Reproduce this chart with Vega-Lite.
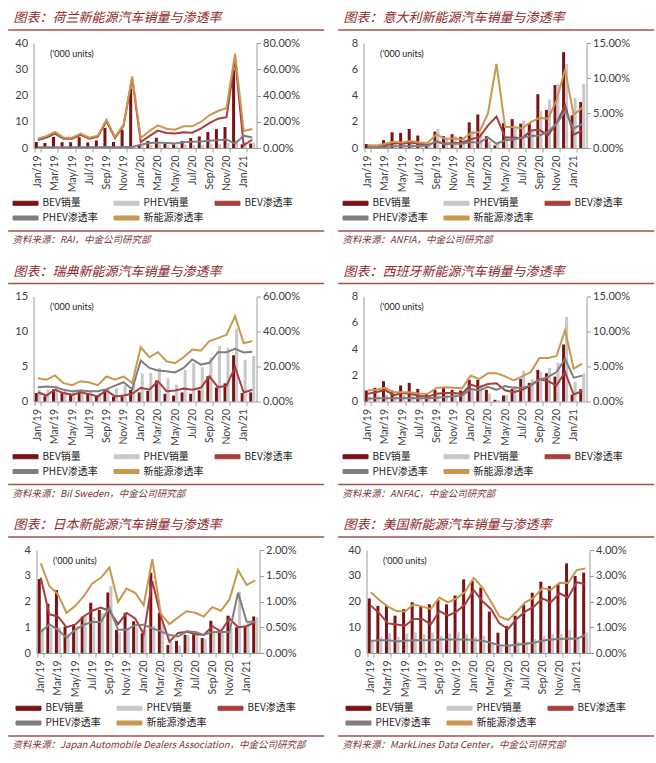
{
"$schema": "https://vega.github.io/schema/vega-lite/v6.json",
"padding": {"left": 7, "top": 12, "right": 0, "bottom": 0},
"background": "white",
"datasets": {
"nl": [
{"m":"Jan/19","bev":2.3,"phev":0.2,"bevr":6.0,"phevr":0.5,"nevr":7.0},
{"m":"Feb/19","bev":1.9,"phev":0.2,"bevr":8.0,"phevr":0.5,"nevr":9.0},
{"m":"Mar/19","bev":4.2,"phev":0.3,"bevr":11.0,"phevr":0.6,"nevr":12.2},
{"m":"Apr/19","bev":2.2,"phev":0.2,"bevr":7.0,"phevr":0.5,"nevr":7.9},
{"m":"May/19","bev":2.2,"phev":0.2,"bevr":7.0,"phevr":0.5,"nevr":7.9},
{"m":"Jun/19","bev":4.1,"phev":0.3,"bevr":10.0,"phevr":0.6,"nevr":10.9},
{"m":"Jul/19","bev":2.1,"phev":0.2,"bevr":7.0,"phevr":0.6,"nevr":7.9},
{"m":"Aug/19","bev":2.9,"phev":0.2,"bevr":8.6,"phevr":0.6,"nevr":9.4},
{"m":"Sep/19","bev":7.7,"phev":0.3,"bevr":20.5,"phevr":0.7,"nevr":21.6},
{"m":"Oct/19","bev":2.3,"phev":0.3,"bevr":7.6,"phevr":0.6,"nevr":8.4},
{"m":"Nov/19","bev":7.0,"phev":0.3,"bevr":17.0,"phevr":0.7,"nevr":18.0},
{"m":"Dec/19","bev":22.6,"phev":0.4,"bevr":53.5,"phevr":0.8,"nevr":54.6},
{"m":"Jan/20","bev":1.2,"phev":1.0,"bevr":4.5,"phevr":2.5,"nevr":7.5},
{"m":"Feb/20","bev":2.7,"phev":1.1,"bevr":9.0,"phevr":3.8,"nevr":13.0},
{"m":"Mar/20","bev":3.9,"phev":1.4,"bevr":13.3,"phevr":4.2,"nevr":17.3},
{"m":"Apr/20","bev":1.7,"phev":0.9,"bevr":11.4,"phevr":3.8,"nevr":14.7},
{"m":"May/20","bev":1.4,"phev":0.9,"bevr":11.0,"phevr":3.5,"nevr":14.0},
{"m":"Jun/20","bev":2.7,"phev":1.3,"bevr":12.0,"phevr":4.3,"nevr":16.5},
{"m":"Jul/20","bev":3.8,"phev":1.2,"bevr":11.7,"phevr":4.8,"nevr":16.5},
{"m":"Aug/20","bev":4.4,"phev":1.2,"bevr":14.7,"phevr":5.0,"nevr":19.8},
{"m":"Sep/20","bev":6.1,"phev":1.7,"bevr":19.0,"phevr":5.5,"nevr":24.9},
{"m":"Oct/20","bev":7.2,"phev":1.6,"bevr":22.3,"phevr":6.0,"nevr":28.2},
{"m":"Nov/20","bev":8.0,"phev":1.8,"bevr":23.5,"phevr":6.5,"nevr":30.5},
{"m":"Dec/20","bev":29.6,"phev":3.0,"bevr":68.5,"phevr":3.3,"nevr":72.0},
{"m":"Jan/21","bev":1.4,"phev":2.2,"bevr":2.0,"phevr":9.4,"nevr":13.0},
{"m":"Feb/21","bev":1.7,"phev":2.0,"bevr":6.3,"phevr":8.0,"nevr":14.5}
],
"it": [
{"m":"Jan/19","bev":0.3,"phev":0.2,"bevr":0.2,"phevr":0.1,"nevr":0.4},
{"m":"Feb/19","bev":0.1,"phev":0.2,"bevr":0.1,"phevr":0.1,"nevr":0.35},
{"m":"Mar/19","bev":0.6,"phev":0.3,"bevr":0.35,"phevr":0.15,"nevr":0.6},
{"m":"Apr/19","bev":1.2,"phev":0.4,"bevr":0.7,"phevr":0.25,"nevr":0.9},
{"m":"May/19","bev":1.15,"phev":0.45,"bevr":0.6,"phevr":0.25,"nevr":0.8},
{"m":"Jun/19","bev":1.45,"phev":0.4,"bevr":0.8,"phevr":0.25,"nevr":1.0},
{"m":"Jul/19","bev":0.95,"phev":0.45,"bevr":0.6,"phevr":0.3,"nevr":0.8},
{"m":"Aug/19","bev":0.3,"phev":0.3,"bevr":0.45,"phevr":0.35,"nevr":0.75},
{"m":"Sep/19","bev":1.25,"phev":1.45,"bevr":0.9,"phevr":1.0,"nevr":1.95},
{"m":"Oct/19","bev":0.9,"phev":0.8,"bevr":0.6,"phevr":0.55,"nevr":1.3},
{"m":"Nov/19","bev":1.05,"phev":0.9,"bevr":0.7,"phevr":0.6,"nevr":1.4},
{"m":"Dec/19","bev":0.85,"phev":0.7,"bevr":0.75,"phevr":0.6,"nevr":1.2},
{"m":"Jan/20","bev":1.95,"phev":1.3,"bevr":1.25,"phevr":0.85,"nevr":2.1},
{"m":"Feb/20","bev":2.55,"phev":1.2,"bevr":1.55,"phevr":0.75,"nevr":2.3},
{"m":"Mar/20","bev":0.9,"phev":0.5,"bevr":3.2,"phevr":1.5,"nevr":4.9},
{"m":"Apr/20","bev":0.2,"phev":0.3,"bevr":4.5,"phevr":0.6,"nevr":12.0},
{"m":"May/20","bev":1.9,"phev":0.9,"bevr":1.5,"phevr":1.1,"nevr":3.0},
{"m":"Jun/20","bev":2.2,"phev":1.6,"bevr":1.5,"phevr":1.2,"nevr":3.0},
{"m":"Jul/20","bev":1.85,"phev":2.1,"bevr":1.4,"phevr":1.5,"nevr":2.8},
{"m":"Aug/20","bev":1.9,"phev":1.4,"bevr":2.5,"phevr":1.7,"nevr":3.7},
{"m":"Sep/20","bev":4.1,"phev":2.8,"bevr":2.6,"phevr":1.8,"nevr":4.3},
{"m":"Oct/20","bev":2.9,"phev":3.7,"bevr":1.85,"phevr":2.3,"nevr":4.2},
{"m":"Nov/20","bev":4.8,"phev":4.9,"bevr":3.5,"phevr":3.5,"nevr":6.8},
{"m":"Dec/20","bev":7.3,"phev":6.4,"bevr":6.1,"phevr":5.3,"nevr":11.2},
{"m":"Jan/21","bev":2.5,"phev":3.8,"bevr":1.9,"phevr":2.8,"nevr":4.7},
{"m":"Feb/21","bev":3.5,"phev":4.9,"bevr":2.5,"phevr":3.4,"nevr":5.8}
],
"se": [
{"m":"Jan/19","bev":1.2,"phev":1.7,"bevr":5.3,"phevr":8.2,"nevr":13.3},
{"m":"Feb/19","bev":0.75,"phev":1.7,"bevr":3.4,"phevr":8.6,"nevr":12.4},
{"m":"Mar/19","bev":1.75,"phev":2.3,"bevr":6.7,"phevr":8.2,"nevr":14.9},
{"m":"Apr/19","bev":1.2,"phev":1.7,"bevr":4.8,"phevr":6.7,"nevr":10.5},
{"m":"May/19","bev":1.0,"phev":1.6,"bevr":3.8,"phevr":5.9,"nevr":9.3},
{"m":"Jun/19","bev":1.65,"phev":1.7,"bevr":5.3,"phevr":6.3,"nevr":11.6},
{"m":"Jul/19","bev":1.2,"phev":1.5,"bevr":4.2,"phevr":5.9,"nevr":10.9},
{"m":"Aug/19","bev":0.85,"phev":1.2,"bevr":2.9,"phevr":5.9,"nevr":9.3},
{"m":"Sep/19","bev":1.65,"phev":1.9,"bevr":6.3,"phevr":7.0,"nevr":14.3},
{"m":"Oct/19","bev":0.7,"phev":1.9,"bevr":2.9,"phevr":9.1,"nevr":12.4},
{"m":"Nov/19","bev":0.75,"phev":2.3,"bevr":3.4,"phevr":11.0,"nevr":14.3},
{"m":"Dec/19","bev":1.65,"phev":2.6,"bevr":4.4,"phevr":7.0,"nevr":10.5},
{"m":"Jan/20","bev":1.3,"phev":4.0,"bevr":7.8,"phevr":23.4,"nevr":31.0},
{"m":"Feb/20","bev":1.5,"phev":4.1,"bevr":6.7,"phevr":19.2,"nevr":25.3},
{"m":"Mar/20","bev":3.0,"phev":4.8,"bevr":11.6,"phevr":17.7,"nevr":28.2},
{"m":"Apr/20","bev":1.1,"phev":3.3,"bevr":5.9,"phevr":17.3,"nevr":23.0},
{"m":"May/20","bev":0.85,"phev":2.4,"bevr":6.3,"phevr":16.6,"nevr":21.9},
{"m":"Jun/20","bev":1.3,"phev":4.5,"bevr":7.4,"phevr":19.2,"nevr":25.3},
{"m":"Jul/20","bev":1.1,"phev":5.5,"bevr":6.7,"phevr":24.0,"nevr":29.7},
{"m":"Aug/20","bev":1.6,"phev":4.9,"bevr":7.8,"phevr":21.1,"nevr":29.1},
{"m":"Sep/20","bev":3.6,"phev":6.3,"bevr":14.3,"phevr":22.1,"nevr":34.5},
{"m":"Oct/20","bev":2.0,"phev":7.9,"bevr":8.2,"phevr":28.2,"nevr":36.2},
{"m":"Nov/20","bev":2.6,"phev":7.7,"bevr":9.0,"phevr":28.2,"nevr":38.1},
{"m":"Dec/20","bev":6.6,"phev":10.4,"bevr":19.6,"phevr":30.1,"nevr":48.8},
{"m":"Jan/21","bev":1.2,"phev":5.95,"bevr":5.1,"phevr":28.0,"nevr":33.3},
{"m":"Feb/21","bev":1.3,"phev":6.5,"bevr":6.7,"phevr":28.4,"nevr":34.5}
],
"es": [
{"m":"Jan/19","bev":0.84,"phev":0.4,"bevr":1.1,"phevr":0.4,"nevr":1.57},
{"m":"Feb/19","bev":1.04,"phev":0.45,"bevr":1.33,"phevr":0.45,"nevr":1.67},
{"m":"Mar/19","bev":1.55,"phev":0.5,"bevr":1.67,"phevr":0.45,"nevr":1.95},
{"m":"Apr/19","bev":0.84,"phev":0.45,"bevr":0.9,"phevr":0.45,"nevr":1.33},
{"m":"May/19","bev":1.22,"phev":0.5,"bevr":1.2,"phevr":0.45,"nevr":1.33},
{"m":"Jun/19","bev":1.42,"phev":0.55,"bevr":1.1,"phevr":0.5,"nevr":1.33},
{"m":"Jul/19","bev":0.96,"phev":0.5,"bevr":0.8,"phevr":0.45,"nevr":1.1},
{"m":"Aug/19","bev":0.58,"phev":0.35,"bevr":0.7,"phevr":0.45,"nevr":1.1},
{"m":"Sep/19","bev":0.89,"phev":0.5,"bevr":1.1,"phevr":0.55,"nevr":1.95},
{"m":"Oct/19","bev":1.04,"phev":0.55,"bevr":1.2,"phevr":0.65,"nevr":2.05},
{"m":"Nov/19","bev":0.89,"phev":0.6,"bevr":1.2,"phevr":0.75,"nevr":1.95},
{"m":"Dec/19","bev":0.84,"phev":0.7,"bevr":1.1,"phevr":0.85,"nevr":1.9},
{"m":"Jan/20","bev":1.65,"phev":1.0,"bevr":2.4,"phevr":1.8,"nevr":3.7},
{"m":"Feb/20","bev":1.65,"phev":1.2,"bevr":2.05,"phevr":1.57,"nevr":3.2},
{"m":"Mar/20","bev":0.89,"phev":0.6,"bevr":2.5,"phevr":2.1,"nevr":4.05},
{"m":"Apr/20","bev":0.13,"phev":0.1,"bevr":2.6,"phevr":1.67,"nevr":4.05},
{"m":"May/20","bev":0.46,"phev":0.5,"bevr":1.6,"phevr":2.2,"nevr":3.6},
{"m":"Jun/20","bev":0.96,"phev":1.2,"bevr":1.33,"phevr":1.95,"nevr":3.0},
{"m":"Jul/20","bev":1.73,"phev":2.35,"bevr":1.67,"phevr":1.95,"nevr":3.6},
{"m":"Aug/20","bev":1.42,"phev":1.7,"bevr":2.3,"phevr":2.3,"nevr":4.2},
{"m":"Sep/20","bev":2.41,"phev":2.3,"bevr":3.2,"phevr":3.1,"nevr":6.2},
{"m":"Oct/20","bev":2.16,"phev":2.55,"bevr":2.9,"phevr":3.5,"nevr":6.2},
{"m":"Nov/20","bev":1.9,"phev":2.95,"bevr":2.3,"phevr":4.2,"nevr":6.5},
{"m":"Dec/20","bev":4.34,"phev":6.45,"bevr":4.2,"phevr":6.1,"nevr":10.2},
{"m":"Jan/21","bev":0.53,"phev":1.5,"bevr":1.0,"phevr":3.4,"nevr":4.7},
{"m":"Feb/21","bev":0.94,"phev":2.15,"bevr":1.5,"phevr":3.7,"nevr":5.4}
],
"jp": [
{"m":"Jan/19","bev":2.87,"phev":0.95,"bevr":1.46,"phevr":0.41,"nevr":1.74},
{"m":"Feb/19","bev":1.91,"phev":1.0,"bevr":0.75,"phevr":0.56,"nevr":1.30},
{"m":"Mar/19","bev":2.44,"phev":1.0,"bevr":0.71,"phevr":0.45,"nevr":1.14},
{"m":"Apr/19","bev":1.03,"phev":0.75,"bevr":0.5,"phevr":0.30,"nevr":0.78},
{"m":"May/19","bev":1.12,"phev":1.05,"bevr":0.55,"phevr":0.45,"nevr":0.91},
{"m":"Jun/19","bev":1.41,"phev":1.45,"bevr":0.71,"phevr":0.55,"nevr":1.10},
{"m":"Jul/19","bev":1.95,"phev":1.4,"bevr":0.82,"phevr":0.6,"nevr":1.35},
{"m":"Aug/19","bev":1.67,"phev":1.55,"bevr":0.88,"phevr":0.6,"nevr":1.46},
{"m":"Sep/19","bev":2.35,"phev":2.6,"bevr":0.82,"phevr":0.88,"nevr":1.66},
{"m":"Oct/19","bev":0.9,"phev":0.8,"bevr":0.56,"phevr":0.45,"nevr":0.99},
{"m":"Nov/19","bev":1.56,"phev":0.95,"bevr":0.78,"phevr":0.45,"nevr":1.25},
{"m":"Dec/19","bev":1.23,"phev":1.0,"bevr":0.67,"phevr":0.54,"nevr":1.17},
{"m":"Jan/20","bev":0.77,"phev":0.9,"bevr":0.37,"phevr":0.55,"nevr":0.93},
{"m":"Feb/20","bev":3.12,"phev":1.05,"bevr":1.4,"phevr":0.48,"nevr":1.82},
{"m":"Mar/20","bev":1.56,"phev":1.2,"bevr":0.71,"phevr":0.42,"nevr":0.76},
{"m":"Apr/20","bev":0.31,"phev":0.45,"bevr":0.22,"phevr":0.35,"nevr":0.56},
{"m":"May/20","bev":0.47,"phev":0.3,"bevr":0.39,"phevr":0.32,"nevr":0.69},
{"m":"Jun/20","bev":0.71,"phev":0.7,"bevr":0.41,"phevr":0.42,"nevr":0.81},
{"m":"Jul/20","bev":0.73,"phev":0.85,"bevr":0.37,"phevr":0.41,"nevr":0.78},
{"m":"Aug/20","bev":0.58,"phev":0.55,"bevr":0.35,"phevr":0.35,"nevr":0.71},
{"m":"Sep/20","bev":1.25,"phev":0.8,"bevr":0.52,"phevr":0.41,"nevr":0.89},
{"m":"Oct/20","bev":0.9,"phev":0.8,"bevr":0.42,"phevr":0.41,"nevr":0.82},
{"m":"Nov/20","bev":1.45,"phev":0.95,"bevr":0.67,"phevr":0.41,"nevr":1.04},
{"m":"Dec/20","bev":1.0,"phev":2.38,"bevr":0.5,"phevr":1.17,"nevr":1.61},
{"m":"Jan/21","bev":1.03,"phev":1.2,"bevr":0.52,"phevr":0.61,"nevr":1.32},
{"m":"Feb/21","bev":1.42,"phev":1.39,"bevr":0.6,"phevr":0.6,"nevr":1.41}
],
"us": [
{"m":"Jan/19","bev":21.2,"phev":4.7,"bevr":1.84,"phevr":0.47,"nevr":2.36},
{"m":"Feb/19","bev":18.3,"phev":6.3,"bevr":1.54,"phevr":0.5,"nevr":2.06},
{"m":"Mar/19","bev":18.4,"phev":7.6,"bevr":1.15,"phevr":0.5,"nevr":1.80},
{"m":"Apr/19","bev":14.5,"phev":6.3,"bevr":1.11,"phevr":0.45,"nevr":1.63},
{"m":"May/19","bev":17.0,"phev":7.6,"bevr":1.06,"phevr":0.48,"nevr":1.61},
{"m":"Jun/19","bev":19.7,"phev":8.0,"bevr":1.32,"phevr":0.5,"nevr":1.89},
{"m":"Jul/19","bev":18.3,"phev":7.4,"bevr":1.32,"phevr":0.5,"nevr":1.80},
{"m":"Aug/19","bev":18.9,"phev":8.0,"bevr":1.11,"phevr":0.5,"nevr":1.71},
{"m":"Sep/19","bev":20.6,"phev":6.7,"bevr":1.63,"phevr":0.52,"nevr":2.15},
{"m":"Oct/19","bev":18.9,"phev":7.6,"bevr":1.45,"phevr":0.52,"nevr":1.97},
{"m":"Nov/19","bev":22.3,"phev":8.0,"bevr":1.61,"phevr":0.52,"nevr":2.12},
{"m":"Dec/19","bev":28.6,"phev":7.3,"bevr":1.89,"phevr":0.52,"nevr":2.38},
{"m":"Jan/20","bev":28.0,"phev":6.3,"bevr":2.45,"phevr":0.5,"nevr":2.92},
{"m":"Feb/20","bev":25.4,"phev":6.7,"bevr":2.02,"phevr":0.48,"nevr":2.55},
{"m":"Mar/20","bev":16.1,"phev":3.8,"bevr":1.71,"phevr":0.4,"nevr":2.0},
{"m":"Apr/20","bev":7.9,"phev":2.5,"bevr":1.15,"phevr":0.3,"nevr":1.42},
{"m":"May/20","bev":10.5,"phev":3.4,"bevr":0.93,"phevr":0.28,"nevr":1.28},
{"m":"Jun/20","bev":14.5,"phev":4.4,"bevr":1.32,"phevr":0.32,"nevr":1.6},
{"m":"Jul/20","bev":18.9,"phev":4.4,"bevr":1.61,"phevr":0.36,"nevr":1.97},
{"m":"Aug/20","bev":23.4,"phev":5.4,"bevr":1.80,"phevr":0.4,"nevr":2.15},
{"m":"Sep/20","bev":27.7,"phev":6.7,"bevr":2.12,"phevr":0.48,"nevr":2.52},
{"m":"Oct/20","bev":26.0,"phev":7.3,"bevr":1.97,"phevr":0.52,"nevr":2.45},
{"m":"Nov/20","bev":26.7,"phev":7.3,"bevr":2.32,"phevr":0.54,"nevr":2.73},
{"m":"Dec/20","bev":34.8,"phev":8.9,"bevr":2.15,"phevr":0.56,"nevr":2.72},
{"m":"Jan/21","bev":29.9,"phev":6.0,"bevr":2.75,"phevr":0.55,"nevr":3.22},
{"m":"Feb/21","bev":31.2,"phev":8.0,"bevr":2.67,"phevr":0.7,"nevr":3.28}
]
},
"spacing": 20.5,
"resolve": {"scale": {"color": "independent"}, "legend": {"color": "independent"}},
"vconcat": [
{"spacing": 12, "resolve": {"scale": {"color": "independent"}, "legend": {"color": "independent"}}, "hconcat": [
{"spacing": 6, "center": true, "resolve": {"scale": {"color": "independent"}, "legend": {"color": "independent"}}, "vconcat": [
{"width": 316, "height": 1, "data": {"values": [{}]}, "title": {"text": "图表：荷兰新能源汽车销量与渗透率"}, "mark": {"type": "rule", "color": "#A0504E", "strokeWidth": 1.3}, "encoding": {"y": {"datum": 1, "type": "quantitative", "scale": {"domain": [0, 1]}, "axis": null}}},
{"width": 223, "height": 105, "data": {"name": "nl"},
 "transform": [{"fold": ["bev", "phev", "bevr", "phevr", "nevr"], "as": ["s", "v"]}],
 "encoding": {
  "x": {"field": "m", "type": "ordinal", "scale": {"domain": ["Jan/19","Feb/19","Mar/19","Apr/19","May/19","Jun/19","Jul/19","Aug/19","Sep/19","Oct/19","Nov/19","Dec/19","Jan/20","Feb/20","Mar/20","Apr/20","May/20","Jun/20","Jul/20","Aug/20","Sep/20","Oct/20","Nov/20","Dec/20","Jan/21","Feb/21"], "paddingInner": 0.3, "paddingOuter": 0.15}, "axis": {"title": null, "values": ["Jan/19","Mar/19","May/19","Jul/19","Sep/19","Nov/19","Jan/20","Mar/20","May/20","Jul/20","Sep/20","Nov/20","Jan/21"]}},
  "color": {"field": "s", "type": "nominal", "scale": {"domain": ["bev", "phev", "bevr", "phevr", "nevr"], "range": ["#7B1216", "#C8C8C8", "#A83E3E", "#7F7F7F", "#C9974F"]},
   "legend": {"title": null, "orient": "none", "direction": "horizontal", "legendX": -21, "legendY": 154.5, "symbolType": "M-1,-0.4H4V0.4H-1Z", "labelExpr": "datum.value == 'bev' ? 'BEV销量' : datum.value == 'phev' ? 'PHEV销量' : datum.value == 'bevr' ? 'BEV渗透率' : datum.value == 'phevr' ? 'PHEV渗透率' : '新能源渗透率'"}}
 },
 "layer": [
  {"transform": [{"filter": "datum.s == 'bev' || datum.s == 'phev'"}], "mark": {"type": "bar"},
   "encoding": {"xOffset": {"field": "s", "type": "nominal", "scale": {"domain": ["bev", "phev"]}}, "y": {"field": "v", "type": "quantitative", "scale": {"domain": [0, 40]}, "axis": {"values": [0, 10, 20, 30, 40], "title": "('000 units)"}}}},
  {"transform": [{"filter": "datum.s != 'bev' && datum.s != 'phev'"}], "mark": {"type": "line", "strokeWidth": 2},
   "encoding": {"y": {"field": "v", "type": "quantitative", "scale": {"domain": [0, 80]}, "axis": {"orient": "right", "values": [0, 20, 40, 60, 80], "title": null, "labelExpr": "format(datum.value, '.2f') + '%'"}}}}
 ],
 "resolve": {"scale": {"y": "independent"}}
},
{"width": 316, "height": 1, "data": {"values": [{}]}, "title": {"text": "资料来源：RAI，中金公司研究部", "orient": "bottom", "fontSize": 9.5, "offset": 3, "dx": 5, "color": "#7A3535"}, "mark": {"type": "rule", "color": "#A0504E", "strokeWidth": 1.3}, "encoding": {"y": {"datum": 1, "type": "quantitative", "scale": {"domain": [0, 1]}, "axis": null}}}
]},
{"spacing": 6, "center": true, "resolve": {"scale": {"color": "independent"}, "legend": {"color": "independent"}}, "vconcat": [
{"width": 316, "height": 1, "data": {"values": [{}]}, "title": {"text": "图表：意大利新能源汽车销量与渗透率"}, "mark": {"type": "rule", "color": "#A0504E", "strokeWidth": 1.3}, "encoding": {"y": {"datum": 1, "type": "quantitative", "scale": {"domain": [0, 1]}, "axis": null}}},
{"width": 223, "height": 105, "data": {"name": "it"},
 "transform": [{"fold": ["bev", "phev", "bevr", "phevr", "nevr"], "as": ["s", "v"]}],
 "encoding": {
  "x": {"field": "m", "type": "ordinal", "scale": {"domain": ["Jan/19","Feb/19","Mar/19","Apr/19","May/19","Jun/19","Jul/19","Aug/19","Sep/19","Oct/19","Nov/19","Dec/19","Jan/20","Feb/20","Mar/20","Apr/20","May/20","Jun/20","Jul/20","Aug/20","Sep/20","Oct/20","Nov/20","Dec/20","Jan/21","Feb/21"], "paddingInner": 0.3, "paddingOuter": 0.15}, "axis": {"title": null, "values": ["Jan/19","Mar/19","May/19","Jul/19","Sep/19","Nov/19","Jan/20","Mar/20","May/20","Jul/20","Sep/20","Nov/20","Jan/21"]}},
  "color": {"field": "s", "type": "nominal", "scale": {"domain": ["bev", "phev", "bevr", "phevr", "nevr"], "range": ["#7B1216", "#C8C8C8", "#A83E3E", "#7F7F7F", "#C9974F"]},
   "legend": {"title": null, "orient": "none", "direction": "horizontal", "legendX": -21, "legendY": 154.5, "symbolType": "M-1,-0.4H4V0.4H-1Z", "labelExpr": "datum.value == 'bev' ? 'BEV销量' : datum.value == 'phev' ? 'PHEV销量' : datum.value == 'bevr' ? 'BEV渗透率' : datum.value == 'phevr' ? 'PHEV渗透率' : '新能源渗透率'"}}
 },
 "layer": [
  {"transform": [{"filter": "datum.s == 'bev' || datum.s == 'phev'"}], "mark": {"type": "bar"},
   "encoding": {"xOffset": {"field": "s", "type": "nominal", "scale": {"domain": ["bev", "phev"]}}, "y": {"field": "v", "type": "quantitative", "scale": {"domain": [0, 8]}, "axis": {"values": [0, 2, 4, 6, 8], "title": "('000 units)"}}}},
  {"transform": [{"filter": "datum.s != 'bev' && datum.s != 'phev'"}], "mark": {"type": "line", "strokeWidth": 2},
   "encoding": {"y": {"field": "v", "type": "quantitative", "scale": {"domain": [0, 15]}, "axis": {"orient": "right", "values": [0, 5, 10, 15], "title": null, "labelExpr": "format(datum.value, '.2f') + '%'"}}}}
 ],
 "resolve": {"scale": {"y": "independent"}}
},
{"width": 316, "height": 1, "data": {"values": [{}]}, "title": {"text": "资料来源：ANFIA，中金公司研究部", "orient": "bottom", "fontSize": 9.5, "offset": 3, "dx": 5, "color": "#7A3535"}, "mark": {"type": "rule", "color": "#A0504E", "strokeWidth": 1.3}, "encoding": {"y": {"datum": 1, "type": "quantitative", "scale": {"domain": [0, 1]}, "axis": null}}}
]}
]},
{"spacing": 12, "resolve": {"scale": {"color": "independent"}, "legend": {"color": "independent"}}, "hconcat": [
{"spacing": 6, "center": true, "resolve": {"scale": {"color": "independent"}, "legend": {"color": "independent"}}, "vconcat": [
{"width": 316, "height": 1, "data": {"values": [{}]}, "title": {"text": "图表：瑞典新能源汽车销量与渗透率"}, "mark": {"type": "rule", "color": "#A0504E", "strokeWidth": 1.3}, "encoding": {"y": {"datum": 1, "type": "quantitative", "scale": {"domain": [0, 1]}, "axis": null}}},
{"width": 223, "height": 105, "data": {"name": "se"},
 "transform": [{"fold": ["bev", "phev", "bevr", "phevr", "nevr"], "as": ["s", "v"]}],
 "encoding": {
  "x": {"field": "m", "type": "ordinal", "scale": {"domain": ["Jan/19","Feb/19","Mar/19","Apr/19","May/19","Jun/19","Jul/19","Aug/19","Sep/19","Oct/19","Nov/19","Dec/19","Jan/20","Feb/20","Mar/20","Apr/20","May/20","Jun/20","Jul/20","Aug/20","Sep/20","Oct/20","Nov/20","Dec/20","Jan/21","Feb/21"], "paddingInner": 0.3, "paddingOuter": 0.15}, "axis": {"title": null, "values": ["Jan/19","Mar/19","May/19","Jul/19","Sep/19","Nov/19","Jan/20","Mar/20","May/20","Jul/20","Sep/20","Nov/20","Jan/21"]}},
  "color": {"field": "s", "type": "nominal", "scale": {"domain": ["bev", "phev", "bevr", "phevr", "nevr"], "range": ["#7B1216", "#C8C8C8", "#A83E3E", "#7F7F7F", "#C9974F"]},
   "legend": {"title": null, "orient": "none", "direction": "horizontal", "legendX": -21, "legendY": 154.5, "symbolType": "M-1,-0.4H4V0.4H-1Z", "labelExpr": "datum.value == 'bev' ? 'BEV销量' : datum.value == 'phev' ? 'PHEV销量' : datum.value == 'bevr' ? 'BEV渗透率' : datum.value == 'phevr' ? 'PHEV渗透率' : '新能源渗透率'"}}
 },
 "layer": [
  {"transform": [{"filter": "datum.s == 'bev' || datum.s == 'phev'"}], "mark": {"type": "bar"},
   "encoding": {"xOffset": {"field": "s", "type": "nominal", "scale": {"domain": ["bev", "phev"]}}, "y": {"field": "v", "type": "quantitative", "scale": {"domain": [0, 15]}, "axis": {"values": [0, 5, 10, 15], "title": "('000 units)"}}}},
  {"transform": [{"filter": "datum.s != 'bev' && datum.s != 'phev'"}], "mark": {"type": "line", "strokeWidth": 2},
   "encoding": {"y": {"field": "v", "type": "quantitative", "scale": {"domain": [0, 60]}, "axis": {"orient": "right", "values": [0, 20, 40, 60], "title": null, "labelExpr": "format(datum.value, '.2f') + '%'"}}}}
 ],
 "resolve": {"scale": {"y": "independent"}}
},
{"width": 316, "height": 1, "data": {"values": [{}]}, "title": {"text": "资料来源：Bil Sweden，中金公司研究部", "orient": "bottom", "fontSize": 9.5, "offset": 3, "dx": 5, "color": "#7A3535"}, "mark": {"type": "rule", "color": "#A0504E", "strokeWidth": 1.3}, "encoding": {"y": {"datum": 1, "type": "quantitative", "scale": {"domain": [0, 1]}, "axis": null}}}
]},
{"spacing": 6, "center": true, "resolve": {"scale": {"color": "independent"}, "legend": {"color": "independent"}}, "vconcat": [
{"width": 316, "height": 1, "data": {"values": [{}]}, "title": {"text": "图表：西班牙新能源汽车销量与渗透率"}, "mark": {"type": "rule", "color": "#A0504E", "strokeWidth": 1.3}, "encoding": {"y": {"datum": 1, "type": "quantitative", "scale": {"domain": [0, 1]}, "axis": null}}},
{"width": 223, "height": 105, "data": {"name": "es"},
 "transform": [{"fold": ["bev", "phev", "bevr", "phevr", "nevr"], "as": ["s", "v"]}],
 "encoding": {
  "x": {"field": "m", "type": "ordinal", "scale": {"domain": ["Jan/19","Feb/19","Mar/19","Apr/19","May/19","Jun/19","Jul/19","Aug/19","Sep/19","Oct/19","Nov/19","Dec/19","Jan/20","Feb/20","Mar/20","Apr/20","May/20","Jun/20","Jul/20","Aug/20","Sep/20","Oct/20","Nov/20","Dec/20","Jan/21","Feb/21"], "paddingInner": 0.3, "paddingOuter": 0.15}, "axis": {"title": null, "values": ["Jan/19","Mar/19","May/19","Jul/19","Sep/19","Nov/19","Jan/20","Mar/20","May/20","Jul/20","Sep/20","Nov/20","Jan/21"]}},
  "color": {"field": "s", "type": "nominal", "scale": {"domain": ["bev", "phev", "bevr", "phevr", "nevr"], "range": ["#7B1216", "#C8C8C8", "#A83E3E", "#7F7F7F", "#C9974F"]},
   "legend": {"title": null, "orient": "none", "direction": "horizontal", "legendX": -21, "legendY": 154.5, "symbolType": "M-1,-0.4H4V0.4H-1Z", "labelExpr": "datum.value == 'bev' ? 'BEV销量' : datum.value == 'phev' ? 'PHEV销量' : datum.value == 'bevr' ? 'BEV渗透率' : datum.value == 'phevr' ? 'PHEV渗透率' : '新能源渗透率'"}}
 },
 "layer": [
  {"transform": [{"filter": "datum.s == 'bev' || datum.s == 'phev'"}], "mark": {"type": "bar"},
   "encoding": {"xOffset": {"field": "s", "type": "nominal", "scale": {"domain": ["bev", "phev"]}}, "y": {"field": "v", "type": "quantitative", "scale": {"domain": [0, 8]}, "axis": {"values": [0, 2, 4, 6, 8], "title": "('000 units)"}}}},
  {"transform": [{"filter": "datum.s != 'bev' && datum.s != 'phev'"}], "mark": {"type": "line", "strokeWidth": 2},
   "encoding": {"y": {"field": "v", "type": "quantitative", "scale": {"domain": [0, 15]}, "axis": {"orient": "right", "values": [0, 5, 10, 15], "title": null, "labelExpr": "format(datum.value, '.2f') + '%'"}}}}
 ],
 "resolve": {"scale": {"y": "independent"}}
},
{"width": 316, "height": 1, "data": {"values": [{}]}, "title": {"text": "资料来源：ANFAC，中金公司研究部", "orient": "bottom", "fontSize": 9.5, "offset": 3, "dx": 5, "color": "#7A3535"}, "mark": {"type": "rule", "color": "#A0504E", "strokeWidth": 1.3}, "encoding": {"y": {"datum": 1, "type": "quantitative", "scale": {"domain": [0, 1]}, "axis": null}}}
]}
]},
{"spacing": 12, "resolve": {"scale": {"color": "independent"}, "legend": {"color": "independent"}}, "hconcat": [
{"spacing": 6, "center": true, "resolve": {"scale": {"color": "independent"}, "legend": {"color": "independent"}}, "vconcat": [
{"width": 316, "height": 1, "data": {"values": [{}]}, "title": {"text": "图表：日本新能源汽车销量与渗透率"}, "mark": {"type": "rule", "color": "#A0504E", "strokeWidth": 1.3}, "encoding": {"y": {"datum": 1, "type": "quantitative", "scale": {"domain": [0, 1]}, "axis": null}}},
{"width": 223, "height": 103, "data": {"name": "jp"},
 "transform": [{"fold": ["bev", "phev", "bevr", "phevr", "nevr"], "as": ["s", "v"]}],
 "encoding": {
  "x": {"field": "m", "type": "ordinal", "scale": {"domain": ["Jan/19","Feb/19","Mar/19","Apr/19","May/19","Jun/19","Jul/19","Aug/19","Sep/19","Oct/19","Nov/19","Dec/19","Jan/20","Feb/20","Mar/20","Apr/20","May/20","Jun/20","Jul/20","Aug/20","Sep/20","Oct/20","Nov/20","Dec/20","Jan/21","Feb/21"], "paddingInner": 0.3, "paddingOuter": 0.15}, "axis": {"title": null, "values": ["Jan/19","Mar/19","May/19","Jul/19","Sep/19","Nov/19","Jan/20","Mar/20","May/20","Jul/20","Sep/20","Nov/20","Jan/21"]}},
  "color": {"field": "s", "type": "nominal", "scale": {"domain": ["bev", "phev", "bevr", "phevr", "nevr"], "range": ["#7B1216", "#C8C8C8", "#A83E3E", "#7F7F7F", "#C9974F"]},
   "legend": {"title": null, "orient": "none", "direction": "horizontal", "legendX": -21, "legendY": 152.5, "symbolType": "M-1,-0.4H4V0.4H-1Z", "labelExpr": "datum.value == 'bev' ? 'BEV销量' : datum.value == 'phev' ? 'PHEV销量' : datum.value == 'bevr' ? 'BEV渗透率' : datum.value == 'phevr' ? 'PHEV渗透率' : '新能源渗透率'"}}
 },
 "layer": [
  {"transform": [{"filter": "datum.s == 'bev' || datum.s == 'phev'"}], "mark": {"type": "bar"},
   "encoding": {"xOffset": {"field": "s", "type": "nominal", "scale": {"domain": ["bev", "phev"]}}, "y": {"field": "v", "type": "quantitative", "scale": {"domain": [0, 4]}, "axis": {"values": [0, 1, 2, 3, 4], "title": "('000 units)"}}}},
  {"transform": [{"filter": "datum.s != 'bev' && datum.s != 'phev'"}], "mark": {"type": "line", "strokeWidth": 2},
   "encoding": {"y": {"field": "v", "type": "quantitative", "scale": {"domain": [0, 2]}, "axis": {"orient": "right", "values": [0, 0.5, 1, 1.5, 2], "title": null, "labelExpr": "format(datum.value, '.2f') + '%'"}}}}
 ],
 "resolve": {"scale": {"y": "independent"}}
},
{"width": 316, "height": 1, "data": {"values": [{}]}, "title": {"text": "资料来源：Japan Automobile Dealers Association，中金公司研究部", "orient": "bottom", "fontSize": 9.5, "offset": 3, "dx": 5, "color": "#7A3535"}, "mark": {"type": "rule", "color": "#A0504E", "strokeWidth": 1.3}, "encoding": {"y": {"datum": 1, "type": "quantitative", "scale": {"domain": [0, 1]}, "axis": null}}}
]},
{"spacing": 6, "center": true, "resolve": {"scale": {"color": "independent"}, "legend": {"color": "independent"}}, "vconcat": [
{"width": 316, "height": 1, "data": {"values": [{}]}, "title": {"text": "图表：美国新能源汽车销量与渗透率"}, "mark": {"type": "rule", "color": "#A0504E", "strokeWidth": 1.3}, "encoding": {"y": {"datum": 1, "type": "quantitative", "scale": {"domain": [0, 1]}, "axis": null}}},
{"width": 223, "height": 103, "data": {"name": "us"},
 "transform": [{"fold": ["bev", "phev", "bevr", "phevr", "nevr"], "as": ["s", "v"]}],
 "encoding": {
  "x": {"field": "m", "type": "ordinal", "scale": {"domain": ["Jan/19","Feb/19","Mar/19","Apr/19","May/19","Jun/19","Jul/19","Aug/19","Sep/19","Oct/19","Nov/19","Dec/19","Jan/20","Feb/20","Mar/20","Apr/20","May/20","Jun/20","Jul/20","Aug/20","Sep/20","Oct/20","Nov/20","Dec/20","Jan/21","Feb/21"], "paddingInner": 0.3, "paddingOuter": 0.15}, "axis": {"title": null, "values": ["Jan/19","Mar/19","May/19","Jul/19","Sep/19","Nov/19","Jan/20","Mar/20","May/20","Jul/20","Sep/20","Nov/20","Jan/21"]}},
  "color": {"field": "s", "type": "nominal", "scale": {"domain": ["bev", "phev", "bevr", "phevr", "nevr"], "range": ["#7B1216", "#C8C8C8", "#A83E3E", "#7F7F7F", "#C9974F"]},
   "legend": {"title": null, "orient": "none", "direction": "horizontal", "legendX": -21, "legendY": 152.5, "symbolType": "M-1,-0.4H4V0.4H-1Z", "labelExpr": "datum.value == 'bev' ? 'BEV销量' : datum.value == 'phev' ? 'PHEV销量' : datum.value == 'bevr' ? 'BEV渗透率' : datum.value == 'phevr' ? 'PHEV渗透率' : '新能源渗透率'"}}
 },
 "layer": [
  {"transform": [{"filter": "datum.s == 'bev' || datum.s == 'phev'"}], "mark": {"type": "bar"},
   "encoding": {"xOffset": {"field": "s", "type": "nominal", "scale": {"domain": ["bev", "phev"]}}, "y": {"field": "v", "type": "quantitative", "scale": {"domain": [0, 40]}, "axis": {"values": [0, 10, 20, 30, 40], "title": "('000 units)"}}}},
  {"transform": [{"filter": "datum.s != 'bev' && datum.s != 'phev'"}], "mark": {"type": "line", "strokeWidth": 2},
   "encoding": {"y": {"field": "v", "type": "quantitative", "scale": {"domain": [0, 4]}, "axis": {"orient": "right", "values": [0, 1, 2, 3, 4], "title": null, "labelExpr": "format(datum.value, '.2f') + '%'"}}}}
 ],
 "resolve": {"scale": {"y": "independent"}}
},
{"width": 316, "height": 1, "data": {"values": [{}]}, "title": {"text": "资料来源：MarkLines Data Center，中金公司研究部", "orient": "bottom", "fontSize": 9.5, "offset": 3, "dx": 5, "color": "#7A3535"}, "mark": {"type": "rule", "color": "#A0504E", "strokeWidth": 1.3}, "encoding": {"y": {"datum": 1, "type": "quantitative", "scale": {"domain": [0, 1]}, "axis": null}}}
]}
]}
],
"config": {
 "view": {"stroke": null},
 "font": "Lato",
 "title": {"anchor": "start", "font": "Noto Sans CJK SC", "fontSize": 13, "fontStyle": "italic", "fontWeight": "normal", "color": "#8C2A2A", "offset": 4, "dx": 6},
 "axis": {"labelFont": "Lato", "labelFontSize": 11, "labelColor": "#404040", "domainColor": "#9A9A9A", "tickColor": "#9A9A9A", "grid": false, "titleFont": "Lato", "titleFontWeight": "normal"},
 "axisX": {"labelAngle": -90, "labelFontSize": 10.5, "labelPadding": 3, "tickBand": "extent", "tickSize": 4},
 "axisLeft": {"ticks": false, "labelPadding": 6, "titleAngle": 0, "titleAlign": "left", "titleBaseline": "middle", "titleX": 16, "titleY": 10, "titleFontSize": 9, "titleColor": "#222222"},
 "axisRight": {"tickSize": 4, "labelPadding": 2},
 "legend": {"columns": 3, "gridAlign": "all", "columnPadding": 9, "rowPadding": 4, "symbolSize": 100, "labelOffset": 19, "labelFont": "Noto Sans CJK SC", "labelFontSize": 10, "labelColor": "#222222", "symbolStrokeWidth": 1}
}
}
